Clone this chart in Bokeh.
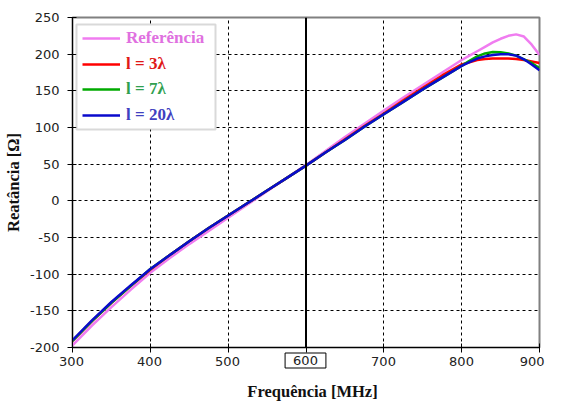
from bokeh.plotting import figure
from bokeh.layouts import column
from bokeh.models import Legend, LegendItem, Span, Label, BoxAnnotation, FixedTicker, Range1d
from bokeh.core.properties import value
from bokeh.embed import file_html
from bokeh.resources import INLINE

# ---- data ----
freq = [300, 325, 350, 375, 400, 425, 450, 475, 500, 525, 550, 575, 600, 625, 650,
        675, 700, 725, 750, 775, 800, 810, 820, 830, 840, 850, 860, 870, 880, 890, 900]
x_ref = [-197, -170, -145, -121, -98, -78, -59, -41, -23, -5, 13, 31, 49, 68, 87,
         105, 123, 141, 158, 175, 192, 198, 204, 210, 216, 221, 225, 227, 224, 213, 199]
x_3 = [-191, -164, -139, -116, -94, -74, -55, -37, -20, -3, 14, 31, 48, 66, 84,
       102, 119, 137, 154, 171, 186, 189, 192, 193.5, 194, 194, 194, 193.5, 192, 190, 188]
x_7 = [-191, -164, -139, -116, -93, -74, -55, -37, -20, -3, 14, 31, 48, 66, 83,
       101, 118, 135, 152, 168, 184, 191, 197, 201, 203, 202.5, 201, 198, 193, 188, 181]
x_20 = [-190, -163, -138, -115, -93, -74, -55, -37, -20, -3, 14, 31, 48, 66, 83,
        101, 118, 135, 152, 168, 184, 189, 194, 197, 199, 200, 200, 198, 193, 186, 178]

series_labels = ["Referência", "l = 3λ", "l = 7λ", "l = 20λ"]
line_colors = ["#F07CF0", "#FF0000", "#00AA00", "#0A0ACC"]
text_colors = ["#E070E0", "#E01818", "#30A050", "#4040C0"]
marker_freq = 600
x_ticks = [300, 400, 500, 600, 700, 800, 900]
x_tick_labels = ["300", "400", "500", "600", "700", "800", "900"]
y_ticks = [-200, -150, -100, -50, 0, 50, 100, 150, 200, 250]
y_tick_labels = ["-200", "-150", "-100", "-50", "0", "50", "100", "150", "200", "250"]
x_title = "Frequência [MHz]"
y_title = "Reatância [Ω]"

W = 545
BL, BR = 71, 6
BOTTOM = 8
x0, x1 = 300, 900

p = figure(width=W, height=355, output_backend="svg", toolbar_location=None,
           x_range=Range1d(x0, x1), y_range=Range1d(-200, 250),
           min_border_left=BL, min_border_right=BR, min_border_top=17, min_border_bottom=BOTTOM)
p.frame_align = False
p.background_fill_color = "white"
p.border_fill_color = "white"
p.outline_line_color = "#808080"
p.outline_line_width = 2

for g in (p.xgrid, p.ygrid):
    g.grid_line_color = "black"
    g.grid_line_dash = "3 3"
    g.grid_line_width = 1

p.xaxis.ticker = FixedTicker(ticks=x_ticks)
p.yaxis.ticker = FixedTicker(ticks=y_ticks)
p.xaxis.major_label_overrides = {t: "" for t in x_ticks}
p.xaxis.major_label_text_font_size = "1px"
p.xaxis.major_label_standoff = 0
p.yaxis.major_label_overrides = dict(zip(y_ticks, y_tick_labels))
for ax in (p.xaxis, p.yaxis):
    ax.axis_line_color = "black"
    ax.axis_line_width = 1
    ax.major_tick_in = 4
    ax.major_tick_out = 5
    ax.major_tick_line_color = "black"
    ax.minor_tick_line_color = None
p.yaxis.major_label_text_font = "DejaVu Sans"
p.yaxis.major_label_text_font_size = "13px"
p.yaxis.major_label_text_color = "#222222"
p.yaxis.major_label_standoff = 8
p.yaxis.axis_label = y_title
p.yaxis.axis_label_text_font = "Liberation Serif"
p.yaxis.axis_label_text_font_style = "bold"
p.yaxis.axis_label_text_font_size = "16.5px"
p.yaxis.axis_label_text_color = "#111111"
p.yaxis.axis_label_standoff = 4

renderers = []
for ys, c in zip([x_ref, x_3, x_7, x_20], line_colors):
    r = p.line(freq, ys, line_color=c, line_width=2.5)
    renderers.append(r)

p.add_layout(Span(location=marker_freq, dimension="height", line_color="black", line_width=2))

box = BoxAnnotation(left=4, right=143, top=323, bottom=218,
                    left_units="screen", right_units="screen", top_units="screen", bottom_units="screen",
                    fill_color="white", fill_alpha=1, line_color="#808080", line_width=2)
p.add_layout(box)

row_bottoms = [299, 273, 248, 222]
for lab, r, tc, yb in zip(series_labels, renderers, text_colors, row_bottoms):
    lg = Legend(items=[LegendItem(label=lab, renderers=[r])], location=(10, yb),
                padding=0, margin=0, spacing=0, border_line_color=None,
                background_fill_alpha=0, glyph_width=38, glyph_height=20,
                label_height=20, label_standoff=6,
                label_text_font="Liberation Serif", label_text_font_style="bold",
                label_text_font_size="17px", label_text_color=tc)
    p.add_layout(lg)

# ---- bottom strip (transparent, overlapping the main bottom border): x tick labels + title ----
WB = W
HB = 54
scale = (W - BL - BR) / (x1 - x0)          # pixels per MHz in the main plot
xb0 = x0 - BL / scale
xb1 = x0 + (WB - BL) / scale
pb = figure(width=WB, height=HB, output_backend="svg", toolbar_location=None,
            x_range=Range1d(xb0, xb1), y_range=Range1d(-HB, 0),
            x_axis_location=None, y_axis_location=None,
            min_border_left=0, min_border_right=0, min_border_top=0, min_border_bottom=0)
pb.frame_align = False
pb.grid.visible = False
pb.outline_line_color = None
pb.background_fill_alpha = 0
pb.border_fill_alpha = 0
pb.margin = (-BOTTOM, 0, 0, 0)

plain = [(t, s) for t, s in zip(x_ticks[:-1], x_tick_labels[:-1]) if t != marker_freq]
pb.text(x=[t for t, s in plain], y=-14, text=[s for t, s in plain],
        text_align="center", text_baseline="middle", text_font=value("DejaVu Sans"),
        text_font_size=value("13px"), text_color="#222222")
pb.text(x=x_ticks[-1:], y=-14, text=x_tick_labels[-1:], x_offset=5,
        text_align="right", text_baseline="middle", text_font=value("DejaVu Sans"),
        text_font_size=value("13px"), text_color="#222222")
pb.add_layout(Label(x=marker_freq, y=-13, text=x_tick_labels[x_ticks.index(marker_freq)],
                    text_align="center", text_baseline="middle", text_font="DejaVu Sans",
                    text_font_size="13px", text_color="#222222",
                    border_line_color="black", border_line_width=1,
                    background_fill_color="white", padding=(8, 3)))
pb.add_layout(Label(x=(x0 + x1) / 2, y=-44, x_offset=7, text=x_title,
                    text_align="center", text_baseline="middle", text_font="Liberation Serif",
                    text_font_style="bold", text_font_size="16.5px", text_color="#111111"))

layout = column(p, pb, spacing=0)
open("out.html", "w").write(file_html(layout, INLINE))
